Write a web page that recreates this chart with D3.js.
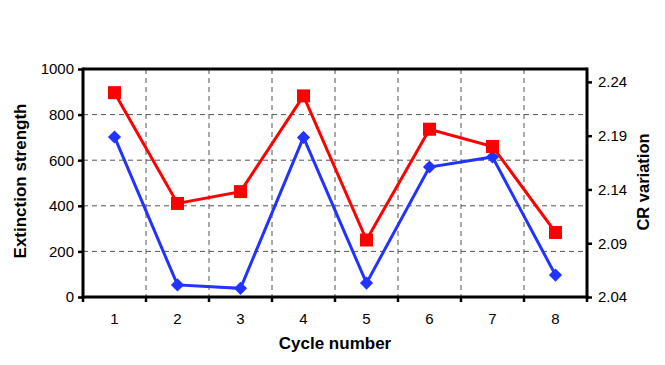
<!DOCTYPE html>
<html>
<head>
<meta charset="utf-8">
<script src="https://cdn.jsdelivr.net/npm/d3@7"></script>
<style>
  body { margin: 0; background: #fff; }
  text { font-family: "Liberation Sans", Arial, sans-serif; }
</style>
</head>
<body>
<script>
var cycles = ["1", "2", "3", "4", "5", "6", "7", "8"];
var extinction = [702, 53, 38, 700, 61, 570, 614, 96];
var crVariation = [2.230, 2.127, 2.138, 2.227, 2.093, 2.196, 2.180, 2.100];
var leftTicks = [0, 200, 400, 600, 800, 1000];
var rightTicks = [2.04, 2.09, 2.14, 2.19, 2.24];

var width = 665;
var height = 365;
var margin = {top: 69, right: 78, bottom: 68, left: 83};
var innerW = width - margin.left - margin.right;
var innerH = height - margin.top - margin.bottom;

var svg = d3.select("body").append("svg")
            .attr("width", width)
            .attr("height", height);

var g = svg.append("g")
           .attr("transform", "translate(" + margin.left + "," + margin.top + ")");

var x = d3.scaleBand().domain(cycles).range([0, innerW]);
var yLeft = d3.scaleLinear().domain([0, 1000]).range([innerH, 0]);
var yRight = d3.scaleLinear().domain([2.04, 2.252]).range([innerH, 0]);

// grid
g.selectAll(".hgrid")
 .data(leftTicks.slice(1, -1))
 .enter().append("line")
 .attr("x1", 0).attr("x2", innerW)
 .attr("y1", function(d){ return yLeft(d); })
 .attr("y2", function(d){ return yLeft(d); })
 .attr("stroke", "#555").attr("stroke-width", 1)
 .attr("stroke-dasharray", "5,4");

g.selectAll(".vgrid")
 .data(cycles.slice(1))
 .enter().append("line")
 .attr("x1", function(d){ return x(d); })
 .attr("x2", function(d){ return x(d); })
 .attr("y1", 0).attr("y2", innerH)
 .attr("stroke", "#555").attr("stroke-width", 1)
 .attr("stroke-dasharray", "5,4");

// frame top
g.append("line").attr("x1", 0).attr("x2", innerW).attr("y1", 0).attr("y2", 0)
 .attr("stroke", "#000").attr("stroke-width", 3);

// axes
var leftAxis = g.append("g")
  .call(d3.axisLeft(yLeft).tickValues(leftTicks).tickSize(5).tickPadding(4)
        .tickFormat(d3.format("d")));
var rightAxis = g.append("g")
  .attr("transform", "translate(" + innerW + ",0)")
  .call(d3.axisRight(yRight).tickValues(rightTicks).tickSize(5).tickPadding(6)
        .tickFormat(d3.format(".2f")));
var bottomAxis = g.append("g")
  .attr("transform", "translate(0," + innerH + ")")
  .call(d3.axisBottom(x).tickSize(0).tickPadding(16));

// ticks at band boundaries on x axis
g.selectAll(".xtick")
 .data(cycles.concat(["end"]))
 .enter().append("line")
 .attr("x1", function(d, i){ return i * x.step(); })
 .attr("x2", function(d, i){ return i * x.step(); })
 .attr("y1", innerH).attr("y2", innerH + 5)
 .attr("stroke", "#000").attr("stroke-width", 2.5);

[leftAxis, rightAxis, bottomAxis].forEach(function(a){
  a.select(".domain").remove();
  a.selectAll(".tick line").attr("stroke", "#000").attr("stroke-width", 2.5);
  a.selectAll("text").attr("font-size", 15).attr("fill", "#000")
   .style("font-family", "'Liberation Sans', Arial, sans-serif");
});

g.append("line").attr("x1", 0).attr("x2", 0).attr("y1", -1.5).attr("y2", innerH + 1.5)
 .attr("stroke", "#000").attr("stroke-width", 3);
g.append("line").attr("x1", innerW).attr("x2", innerW).attr("y1", -1.5).attr("y2", innerH + 1.5)
 .attr("stroke", "#000").attr("stroke-width", 3);
g.append("line").attr("x1", -1.5).attr("x2", innerW + 1.5).attr("y1", innerH).attr("y2", innerH)
 .attr("stroke", "#000").attr("stroke-width", 3);

// series
var cx = function(d, i){ return x(cycles[i]) + x.bandwidth() / 2; };

var blueLine = d3.line()
  .x(function(d, i){ return cx(d, i); })
  .y(function(d){ return yLeft(d); });
var redLine = d3.line()
  .x(function(d, i){ return cx(d, i); })
  .y(function(d){ return yRight(d); });

g.append("path").datum(extinction)
 .attr("d", blueLine).attr("fill", "none")
 .attr("stroke", "#2233ff").attr("stroke-width", 3);
g.append("path").datum(crVariation)
 .attr("d", redLine).attr("fill", "none")
 .attr("stroke", "#ff0000").attr("stroke-width", 3);

g.selectAll(".diamond")
 .data(extinction)
 .enter().append("path")
 .attr("d", d3.symbol().type(d3.symbolDiamond2).size(110))
 .attr("transform", function(d, i){ return "translate(" + cx(d, i) + "," + yLeft(d) + ")"; })
 .attr("fill", "#2233ff");

g.selectAll(".square")
 .data(crVariation)
 .enter().append("rect")
 .attr("x", function(d, i){ return cx(d, i) - 6.5; })
 .attr("y", function(d){ return yRight(d) - 6.5; })
 .attr("width", 13).attr("height", 13)
 .attr("fill", "#ff0000");

// titles
svg.append("text")
   .attr("transform", "translate(22,181) rotate(-90)")
   .attr("text-anchor", "middle").attr("dominant-baseline", "middle")
   .attr("font-size", 17).attr("font-weight", "bold")
   .text("Extinction strength");

svg.append("text")
   .attr("transform", "translate(645,182) rotate(-90)")
   .attr("text-anchor", "middle").attr("dominant-baseline", "middle")
   .attr("font-size", 16.5).attr("font-weight", "bold")
   .text("CR variation");

svg.append("text")
   .attr("x", margin.left + innerW / 2).attr("y", 349)
   .attr("text-anchor", "middle")
   .attr("font-size", 17).attr("font-weight", "bold")
   .text("Cycle number");
</script>
</body>
</html>
